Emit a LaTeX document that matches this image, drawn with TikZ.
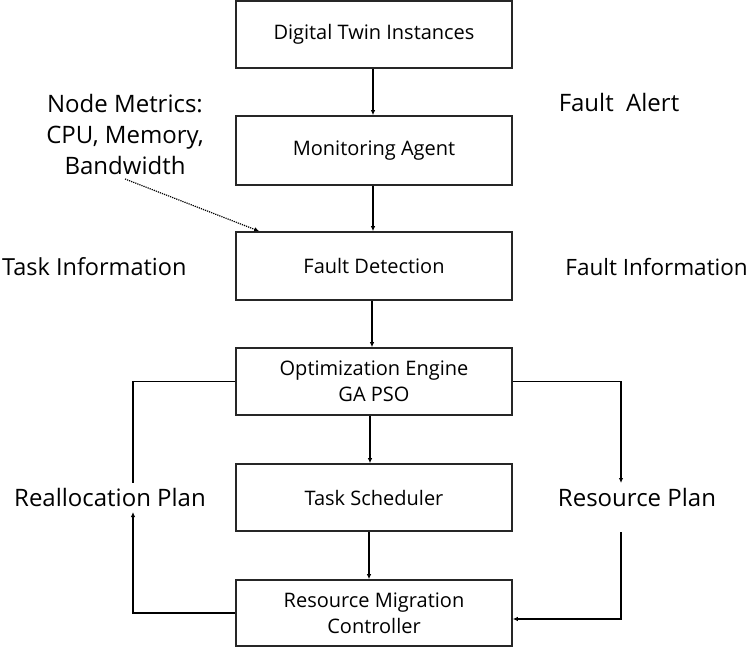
\documentclass[tikz,border=0pt]{standalone}
\usepackage{fontspec}
\setmainfont{Open Sans}
\usetikzlibrary{arrows.meta}
\begin{document}
\begin{tikzpicture}[x=1pt,y=-1pt,
  box/.style={draw=black!85,line width=1.6pt,minimum width=276pt,minimum height=67pt,inner sep=0pt,align=center,font=\fontsize{20}{26}\selectfont},
  lbl/.style={align=center,font=\fontsize{24}{31}\selectfont,inner sep=0pt},
  arr/.style={line width=1.1pt,-{Latex[length=5pt,width=4.5pt]}},
  ln/.style={line width=1.1pt}]
\useasboundingbox (0,0) rectangle (750,648);
\node[box] (b1) at (374,34.5) {Digital Twin Instances};
\node[box,minimum height=69pt] (b2) at (374,150.5) {Monitoring Agent};
\node[box,minimum height=68pt] (b3) at (374,266) {Fault Detection};
\node[box] (b4) at (374,381.5) {Optimization Engine\\GA PSO};
\node[box] (b5) at (374,497.5) {Task Scheduler};
\node[box,minimum height=66pt] (b6) at (374,613) {Resource Migration\\Controller};

\node[lbl] (nm) at (125,134) {Node Metrics:\\CPU, Memory,\\Bandwidth};
\node[lbl] (fa) at (619,102) {Fault\ \ Alert};
\node[lbl,anchor=west,font=\fontsize{23.5}{31}\selectfont] (ti) at (2,267) {Task Information};
\node[lbl,anchor=east,font=\fontsize{22.5}{31}\selectfont] (fi) at (748,267) {Fault Information};
\node[lbl] (rp) at (110,497) {Reallocation Plan};
\node[lbl] (rsp) at (637,497) {Resource Plan};

\draw[arr] ([xshift=-1pt]b1.south) -- ([xshift=-1pt]b2.north);
\draw[arr] ([xshift=-1pt]b2.south) -- ([xshift=-1pt]b3.north);
\draw[arr] ([xshift=-2pt]b3.south) -- ([xshift=-2pt]b4.north);
\draw[arr] ([xshift=-4pt]b4.south) -- ([xshift=-4pt]b5.north);
\draw[arr] ([xshift=-5pt]b5.south) -- ([xshift=-5pt]b6.north);

\coordinate (ds) at (125,179);
\draw[arr,line width=1.2pt,dash pattern=on 1.2pt off 1pt] (ds) -- ([xshift=24pt]b3.north west);

\coordinate (lt) at (133,483);
\draw[ln] (b4.west) -| (lt);
\coordinate (rt) at (621,483);
\draw[arr] (b4.east) -| (rt);
\coordinate (lb) at (133,512);
\draw[arr] (b6.west) -| (lb);
\coordinate (rb) at (621,532);
\draw[arr] (rb) |- ([yshift=-6pt]b6.east);
\end{tikzpicture}
\end{document}
